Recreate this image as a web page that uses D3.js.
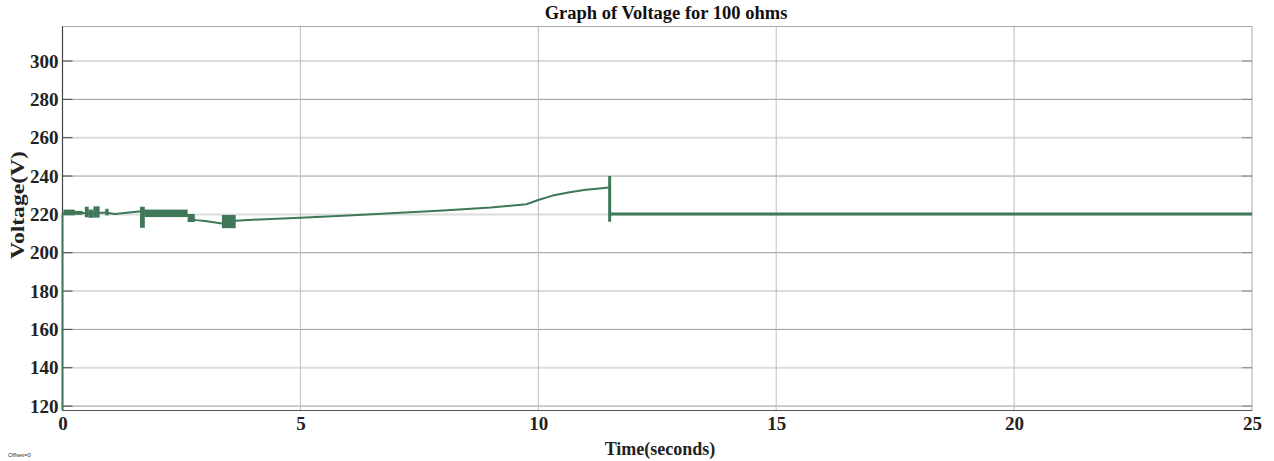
<!DOCTYPE html>
<html><head><meta charset="utf-8">
<script src="https://cdn.jsdelivr.net/npm/d3@7"></script>
<style>body{margin:0;background:#fff}svg{display:block}</style>
</head><body>
<svg id="c" width="1274" height="461"></svg>
<script>
// ---- data ----
const title = "Graph of Voltage for 100 ohms";
const xLabel = "Time(seconds)";
const yLabel = "Voltage(V)";
const xTicks = [0, 5, 10, 15, 20, 25];
const yTicks = [120, 140, 160, 180, 200, 220, 240, 260, 280, 300];
const xDomain = [0, 25];
const yDomain = [117.7, 318];

// main trace
const time    = [0, 0, 0.3, 0.6, 0.9, 1.1, 1.4, 1.7, 2.2, 2.6, 2.8, 3.0, 3.35, 3.64, 4, 5, 6, 7, 8, 9, 9.75, 10.0, 10.3, 10.66, 11.0, 11.29, 11.48, 11.5, 11.5, 11.5, 25];
const voltage = [117.7, 220.2, 221, 220.5, 221, 220.2, 221, 221.8, 220.5, 219.8, 217, 216.5, 215.3, 216.7, 217.2, 218.3, 219.4, 220.7, 222, 223.6, 225.3, 227.5, 229.8, 231.5, 232.8, 233.5, 234, 240, 216.2, 220.2, 220.2];

// oscillation envelopes (start time, end time, low, high)
const bandStart = [0.02, 0.26, 0.47, 0.55, 0.65, 0.9, 1.63, 1.73, 2.63, 3.35];
const bandEnd   = [0.26, 0.42, 0.55, 0.65, 0.78, 0.97, 1.73, 2.63, 2.78, 3.64];
const bandLow   = [219.5, 219.8, 218.5, 218.2, 218.3, 219.5, 213.0, 218.6, 216.0, 212.8];
const bandHigh  = [222.5, 221.8, 224.0, 222.5, 224.2, 222.9, 224.0, 222.5, 220.2, 219.7];

// ---- chart ----
const m = {left: 62.5, top: 26.5, right: 1252, bottom: 410.5};
const color = "#3e7859";
const svg = d3.select("#c");
const x = d3.scaleLinear().domain(xDomain).range([m.left, m.right]);
const y = d3.scaleLinear().domain(yDomain).range([m.bottom, m.top]);
const serif = "'Liberation Serif','Times New Roman',serif";

// grid
svg.append("g").selectAll("line").data(yTicks).join("line")
  .attr("x1", m.left).attr("x2", m.right)
  .attr("y1", d => y(d)).attr("y2", d => y(d))
  .attr("stroke", (d,i) => i % 2 === 0 ? "#9a9a9a" : "#dcdcdc")
  .attr("stroke-width", (d,i) => i % 2 === 0 ? 1 : 2);
svg.append("g").selectAll("line").data(xTicks.filter(d => d > 0 && d < 25)).join("line")
  .attr("y1", m.top).attr("y2", m.bottom)
  .attr("x1", d => x(d)).attr("x2", d => x(d))
  .attr("stroke", "#bdbdbd").attr("stroke-width", 1);

// frame
svg.append("rect").attr("x", m.left).attr("y", m.top)
  .attr("width", m.right - m.left).attr("height", m.bottom - m.top)
  .attr("fill", "none").attr("stroke", "#a8a8a8").attr("stroke-width", 1);
svg.append("line").attr("x1", m.left).attr("x2", m.left).attr("y1", m.top).attr("y2", m.bottom)
  .attr("stroke", "#444").attr("stroke-width", 1.2);
svg.append("line").attr("x1", m.left).attr("x2", m.right).attr("y1", m.bottom).attr("y2", m.bottom)
  .attr("stroke", "#555").attr("stroke-width", 1.2);

// axes (ticks inward)
const yAxis = d3.axisLeft(y).tickValues(yTicks).tickSize(0).tickPadding(4);
const gy = svg.append("g").attr("transform", `translate(${m.left},0)`).call(yAxis);
gy.select(".domain").remove();
gy.selectAll("text").attr("font-family", serif).attr("font-weight", "bold").attr("font-size", 19).attr("fill", "#222");
svg.append("g").selectAll("line").data(yTicks).join("line")
  .attr("x1", m.left).attr("x2", m.left + 10).attr("y1", d => y(d)).attr("y2", d => y(d))
  .attr("stroke", "#444");
svg.append("g").selectAll("line").data(yTicks).join("line")
  .attr("x1", m.right - 10).attr("x2", m.right).attr("y1", d => y(d)).attr("y2", d => y(d))
  .attr("stroke", "#888");

const xAxis = d3.axisBottom(x).tickValues(xTicks).tickSize(0).tickPadding(6);
const gx = svg.append("g").attr("transform", `translate(0,${m.bottom})`).call(xAxis);
gx.select(".domain").remove();
gx.selectAll("text").attr("font-family", serif).attr("font-weight", "bold").attr("font-size", 19).attr("fill", "#222");

// labels
svg.append("text").attr("x", 666).attr("y", 19).attr("text-anchor", "middle")
  .attr("font-family", serif).attr("font-weight", "bold").attr("font-size", 18.5).attr("fill", "#111").text(title);
svg.append("text").attr("x", 660).attr("y", 455).attr("text-anchor", "middle")
  .attr("font-family", serif).attr("font-weight", "bold").attr("font-size", 18).attr("fill", "#222").text(xLabel);
svg.append("text").attr("transform", "translate(24,205) rotate(-90)").attr("text-anchor", "middle")
  .attr("font-family", serif).attr("font-weight", "bold").attr("font-size", 18)
  .attr("textLength", 108).attr("lengthAdjust", "spacingAndGlyphs").attr("fill", "#222").text(yLabel);
svg.append("text").attr("x", 8).attr("y", 457).attr("font-family", "'Liberation Sans',Arial,sans-serif")
  .attr("font-size", 6).attr("fill", "#333").text("Offset=0");

// data
const pts = time.map((t, i) => ({t, v: voltage[i]}));
const line = d3.line().x(d => x(d.t)).y(d => y(d.v));
const split = 26; // index of last point before the switching spike
const gd = svg.append("g");
gd.append("path").datum(pts.slice(0, split + 1)).attr("d", line)
  .attr("fill", "none").attr("stroke", color).attr("stroke-width", 2).attr("stroke-linejoin", "round");
gd.append("path").datum(pts.slice(split + 1)).attr("d", line)
  .attr("fill", "none").attr("stroke", color).attr("stroke-width", 3);
gd.selectAll("rect").data(bandStart.map((s, i) => ({s, e: bandEnd[i], lo: bandLow[i], hi: bandHigh[i]}))).join("rect")
  .attr("x", d => x(d.s)).attr("width", d => x(d.e) - x(d.s))
  .attr("y", d => y(d.hi)).attr("height", d => y(d.lo) - y(d.hi))
  .attr("fill", color);
</script>
</body></html>
